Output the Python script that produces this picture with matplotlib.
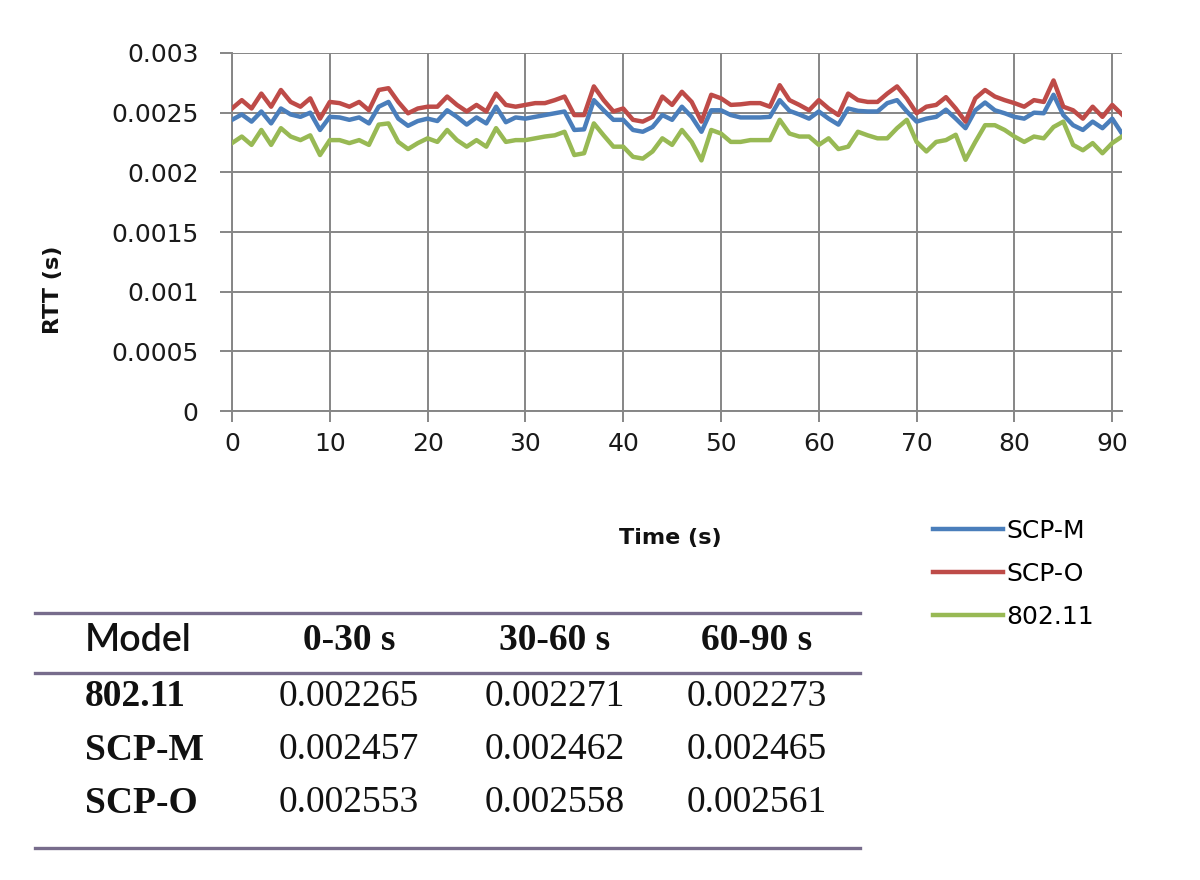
import numpy as np
import matplotlib
matplotlib.use("Agg")
import matplotlib.pyplot as plt
from matplotlib.lines import Line2D

# RTT samples (units of 1e-4 s), one per second
scp_m = [24.4, 24.85, 24.25, 25.1, 24.1, 25.35, 24.85, 24.65, 25.0, 23.55,
         24.65, 24.6, 24.4, 24.6, 24.1, 25.5, 25.9, 24.5, 23.9, 24.3,
         24.5, 24.3, 25.2, 24.65, 24.0, 24.6, 24.1, 25.5, 24.2, 24.6,
         24.5, 24.65, 24.8, 24.95, 25.1, 23.55, 23.6, 26.05, 25.2, 24.4,
         24.4, 23.55, 23.4, 23.8, 24.8, 24.4, 25.5, 24.65, 23.4, 25.2,
         25.2, 24.8, 24.6, 24.6, 24.6, 24.65, 26.05, 25.15, 24.85, 24.5,
         25.1, 24.5, 24.0, 25.35, 25.15, 25.1, 25.1, 25.8, 26.05, 25.1,
         24.25, 24.5, 24.65, 25.25, 24.5, 23.7, 25.2, 25.85, 25.2, 24.95,
         24.65, 24.5, 25.0, 24.95, 26.5, 24.8, 23.95, 23.55, 24.25, 23.7,
         24.5, 23.25]
scp_o = [25.35, 26.05, 25.35, 26.6, 25.5, 26.9, 25.9, 25.5, 26.2, 24.5,
         25.9, 25.8, 25.5, 25.9, 25.2, 26.9, 27.05, 25.9, 24.95, 25.35,
         25.5, 25.5, 26.35, 25.65, 25.1, 25.65, 25.1, 26.6, 25.65, 25.5,
         25.65, 25.8, 25.8, 26.05, 26.35, 24.8, 24.8, 27.2, 26.05, 25.1,
         25.35, 24.4, 24.25, 24.65, 26.35, 25.65, 26.75, 25.9, 24.25, 26.5,
         26.2, 25.65, 25.7, 25.8, 25.8, 25.5, 27.3, 26.05, 25.65, 25.2,
         26.05, 25.35, 24.8, 26.6, 26.05, 25.9, 25.9, 26.6, 27.2, 26.2,
         24.95, 25.5, 25.65, 26.3, 25.35, 24.25, 26.2, 26.9, 26.35, 26.05,
         25.8, 25.5, 26.05, 25.9, 27.7, 25.5, 25.2, 24.5, 25.5, 24.65,
         25.65, 24.85]
wifi = [22.45, 23.0, 22.3, 23.55, 22.3, 23.7, 23.0, 22.7, 23.1, 21.45,
        22.7, 22.7, 22.45, 22.7, 22.3, 24.0, 24.1, 22.55, 21.95, 22.45,
        22.85, 22.55, 23.55, 22.7, 22.15, 22.7, 22.15, 23.7, 22.55, 22.7,
        22.7, 22.85, 23.0, 23.1, 23.4, 21.45, 21.6, 24.1, 23.1, 22.15,
        22.15, 21.3, 21.15, 21.75, 22.85, 22.3, 23.55, 22.55, 21.0, 23.55,
        23.25, 22.55, 22.55, 22.7, 22.7, 22.7, 24.4, 23.25, 23.0, 23.0,
        22.3, 22.85, 21.95, 22.15, 23.4, 23.1, 22.85, 22.85, 23.7, 24.4,
        22.55, 21.75, 22.55, 22.7, 23.15, 21.05, 22.55, 23.95, 23.95, 23.55,
        23.0, 22.55, 23.0, 22.85, 23.8, 24.25, 22.3, 21.85, 22.45, 21.6,
        22.45, 23.0]

yticks = [0, 0.0005, 0.001, 0.0015, 0.002, 0.0025, 0.003]
ytick_labels = ["0", "0.0005", "0.001", "0.0015", "0.002", "0.0025", "0.003"]
xticks = [0, 10, 20, 30, 40, 50, 60, 70, 80, 90]

# summary table
models = ["802.11", "SCP-M", "SCP-O"]
periods = ["0-30 s", "30-60 s", "60-90 s"]
means = [[0.002265, 0.002271, 0.002273],
         [0.002457, 0.002462, 0.002465],
         [0.002553, 0.002558, 0.002561]]

W, H = 1200, 880
fig = plt.figure(figsize=(12, 8.8), dpi=100)

def fx(px):
    return px / W

def fy(py):
    return 1 - py / H

ax = fig.add_axes([fx(232), fy(411), fx(1122) - fx(232), fy(53) - fy(411)])

t = np.arange(len(scp_m))
ax.plot(t, np.array(scp_m) * 1e-4, color="#4a7ebb", lw=3.2, label="SCP-M", zorder=3)
ax.plot(t, np.array(scp_o) * 1e-4, color="#be4b48", lw=3.2, label="SCP-O", zorder=3)
ax.plot(t, np.array(wifi) * 1e-4, color="#98b954", lw=3.2, label="802.11", zorder=3)

ax.set_xlim(0, len(scp_m) - 1)
ax.set_ylim(0, 0.003)
ax.set_yticks(yticks)
ax.set_yticklabels(ytick_labels)
ax.set_xticks(xticks)

grid_c = "#868686"
ax.grid(True, color=grid_c, lw=1.4, zorder=1)
for s in ["top", "right"]:
    ax.spines[s].set_visible(False)
for s in ["left", "bottom"]:
    ax.spines[s].set_color(grid_c)
    ax.spines[s].set_linewidth(1.4)
ax.tick_params(axis="y", length=9, width=1.4, color=grid_c, pad=15, labelsize=18, labelcolor="#1a1a1a")
ax.tick_params(axis="x", length=8, width=1.4, color=grid_c, pad=7, labelsize=18, labelcolor="#1a1a1a")

fig.text(fx(53), fy(290), "RTT (s)", rotation=90, ha="center", va="center",
         fontsize=16, fontweight="bold", color="#111111")
fig.text(fx(670), fy(538), "Time (s)", ha="center", va="center",
         fontsize=16, fontweight="bold", color="#111111")

fig.legend(loc="upper left", bbox_to_anchor=(fx(933), fy(519)), frameon=False,
           fontsize=18, handlelength=2.8, handletextpad=0.15, labelspacing=0.75,
           borderpad=0, borderaxespad=0)

# table
line_c = "#776c8c"
for py in [613, 673, 848]:
    fig.add_artist(Line2D([fx(35), fx(860)], [fy(py), fy(py)], color=line_c, lw=2.4))

col_x = [349, 555, 757]
row_y = [697, 750, 803]
fig.text(fx(85), fy(640), "Model", ha="left", va="center", fontsize=27,
         family="Lato", fontweight="semibold", color="#111111")
for cx, p in zip(col_x, periods):
    fig.text(fx(cx), fy(640), p, ha="center", va="center", fontsize=27,
             family="Liberation Serif", fontweight="bold", color="#111111")
for ry, m, vals in zip(row_y, models, means):
    fig.text(fx(85), fy(ry), m, ha="left", va="center", fontsize=27,
             family="Liberation Serif", fontweight="bold", color="#111111")
    for cx, v in zip(col_x, vals):
        fig.text(fx(cx), fy(ry), f"{v:.6f}", ha="center", va="center", fontsize=27,
                 family="Liberation Serif", color="#111111")

fig.savefig("out.png", dpi=100)
